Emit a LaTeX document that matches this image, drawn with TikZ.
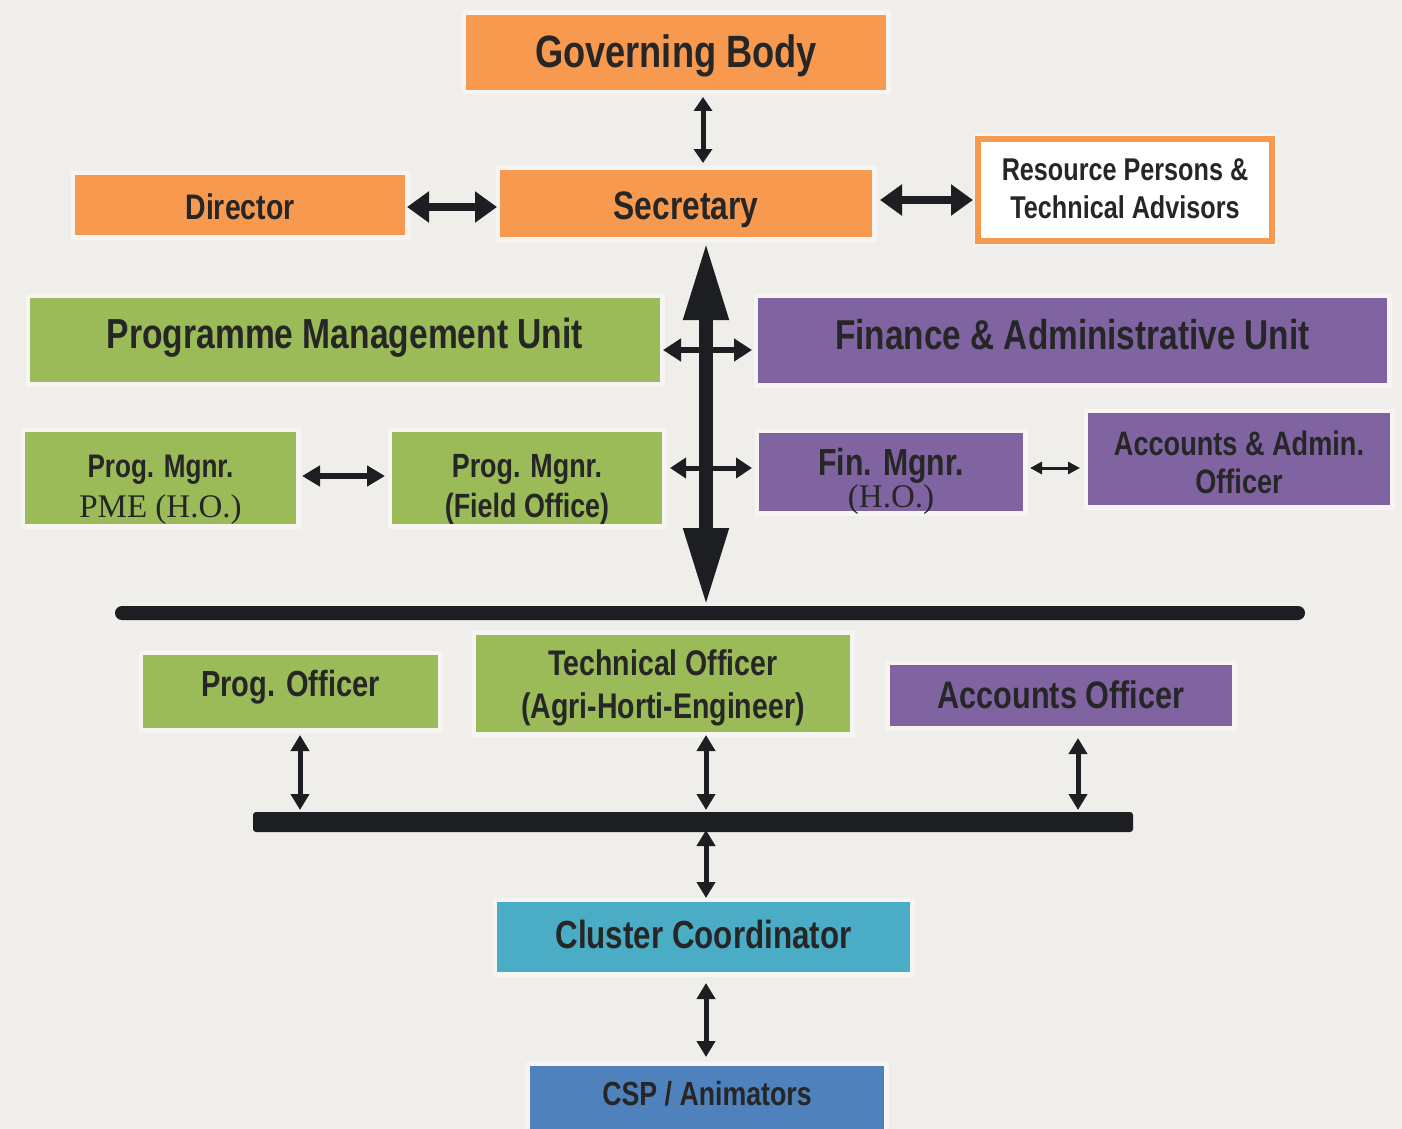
\documentclass[tikz,border=0pt]{standalone}
\usepackage{fontspec}
\setmainfont{Liberation Sans}
\newfontfamily\cond[FakeStretch=0.8]{Liberation Sans}
\newfontfamily\serifr{Liberation Serif}
\usetikzlibrary{arrows.meta,calc}
\definecolor{bg}{HTML}{F0EEEA}
\definecolor{orng}{HTML}{F79A50}
\definecolor{grn}{HTML}{9BBB59}
\definecolor{prp}{HTML}{8064A2}
\definecolor{cyn}{HTML}{4BACC6}
\definecolor{blu}{HTML}{4F81BD}
\definecolor{ink}{HTML}{262626}
\definecolor{arrc}{HTML}{1C1E22}
\newcommand{\setfs}[2]{\fontsize{#1}{#2}\selectfont}
\tikzset{
  box/.style={rectangle, inner sep=0pt, outer sep=0pt, anchor=north west, fill=#1, text=ink,
    align=center, font=\cond\bfseries,
    preaction={draw=white, line width=9pt, opacity=0.45}},
  down/.style={text height=#1, text depth=0pt},
  barbox/.style={rectangle, inner sep=0pt, outer sep=0pt, anchor=north west, fill=arrc},
  conn/.style n args={3}{draw=arrc, line width=#1,
    arrows={Triangle[width=#2,length=#3]-Triangle[width=#2,length=#3]}}
}
\begin{document}
\begin{tikzpicture}[x=1pt,y=-1pt]
\useasboundingbox (0,0) rectangle (1402,1129);
\fill[bg] (0,0) rectangle (1402,1129);

% top level
\node[box=orng, minimum width=420pt, minimum height=75pt, down=31pt, font=\cond\bfseries\setfs{45.3}{50}] (gb) at (466,15) {Governing Body};
\node[box=orng, minimum width=330pt, minimum height=60pt, down=29pt, font=\cond\bfseries\setfs{35.5}{40}] (dir) at (75,175) {Director};
\node[box=orng, minimum width=372pt, minimum height=67pt, down=32pt, font=\cond\bfseries\setfs{39.7}{44}] (sec) at (500,170) {Secretary};
\node[box=white, draw=orng, line width=6pt, minimum width=294pt, minimum height=102pt, down=56pt, font=\cond\bfseries\setfs{31.5}{38}] (res) at (978,139) {Resource Persons \&\\Technical Advisors};

% units
\node[box=grn, minimum width=630pt, minimum height=84pt, down=17pt, font=\cond\bfseries\setfs{42}{46}] (pmu) at (30,298) {Programme Management Unit};
\node[box=prp, minimum width=629pt, minimum height=85pt, down=17pt, font=\cond\bfseries\setfs{41.7}{46}] (fau) at (758,298) {Finance \& Administrative Unit};

\node[box=grn, minimum width=271pt, minimum height=92pt, down=78pt, font=\cond\bfseries\setfs{32.6}{40}] (pme) at (25,432) {Prog. Mgnr.\\{\serifr\mdseries\setfs{33}{40}PME (H.O.)}};
\node[box=grn, minimum width=270pt, minimum height=92pt, down=78pt, font=\cond\bfseries\setfs{33.6}{40}] (pmf) at (392,432) {Prog. Mgnr.\\(Field Office)};
\node[box=prp, minimum width=264pt, minimum height=78pt, down=70pt, font=\cond\bfseries\setfs{37.7}{29}] (fin) at (759,433) {Fin. Mgnr.\\{\serifr\mdseries\setfs{33}{29}(H.O.)}};
\node[box=prp, minimum width=302pt, minimum height=92pt, down=68pt, font=\cond\bfseries\setfs{33.9}{38}] (aao) at (1088,413) {Accounts \& Admin.\\Officer};

% bars
\node[barbox, minimum width=1190pt, minimum height=14pt, rounded corners=7pt] (bar1) at (115,606) {};
\node[barbox, minimum width=880pt, minimum height=20pt, rounded corners=3pt] (bar2) at (253,812) {};

% officers
\node[box=grn, minimum width=295pt, minimum height=73pt, down=10pt, font=\cond\bfseries\setfs{36.3}{40}] (po) at (143,655) {Prog. Officer};
\node[box=grn, minimum width=374pt, minimum height=97pt, down=69pt, font=\cond\bfseries\setfs{35.6}{43}] (to) at (476,635) {Technical Officer\\(Agri-Horti-Engineer)};
\node[box=prp, minimum width=342pt, minimum height=61pt, down=25pt, font=\cond\bfseries\setfs{38.3}{42}] (ao) at (890,665) {Accounts Officer};

\node[box=cyn, minimum width=413pt, minimum height=70pt, down=22pt, font=\cond\bfseries\setfs{39.2}{44}] (cc) at (497,902) {Cluster Coordinator};
\node[box=blu, minimum width=354pt, minimum height=63pt, down=15pt, font=\cond\bfseries\setfs{33.4}{38}] (csp) at (530,1066) {CSP / Animators};

% connector positions
\coordinate (xa) at (703,0);
\coordinate (xb) at (706,0);
\coordinate (xp) at (300,0);
\coordinate (xo) at (1078,0);
\coordinate (ya) at (0,207);
\coordinate (yb) at (0,200);
\coordinate (yc) at (0,350);
\coordinate (yd) at (0,468);
\coordinate (ye) at (0,476);

% connectors
\draw[conn={5pt}{18pt}{14pt}, shorten <=7pt, shorten >=7pt] (gb.south -| xa) -- (sec.north -| xa);
\draw[conn={8pt}{30pt}{22pt}, shorten <=2pt, shorten >=3pt] (dir.east |- ya) -- (sec.west |- ya);
\draw[conn={8pt}{30pt}{22pt}, shorten <=8pt, shorten >=5pt] (sec.east |- yb) -- (res.west |- yb);

\draw[conn={6pt}{22pt}{18pt}, shorten <=3pt, shorten >=6pt] (pmu.east |- yc) -- (fau.west |- yc);
\draw[conn={5pt}{20pt}{16pt}, shorten <=8pt, shorten >=7pt] (pmf.east |- yd) -- (fin.west |- yd);
\draw[conn={14pt}{42pt}{78pt}, shorten <=5pt] (sec.south -| xb) -- (bar1.north -| xb);

\draw[conn={6pt}{20pt}{18pt}, shorten <=6pt, shorten >=7pt] (pme.east |- ye) -- (pmf.west |- ye);
\draw[conn={3pt}{12pt}{12pt}, shorten <=7pt, shorten >=8pt] (fin.east |- yd) -- (aao.west |- yd);

\draw[conn={5pt}{18pt}{16pt}, shorten <=7pt, shorten >=2pt] (po.south -| xp) -- (bar2.north -| xp);
\draw[conn={5pt}{18pt}{16pt}, shorten <=3pt, shorten >=2pt] (to.south -| xb) -- (bar2.north -| xb);
\draw[conn={5pt}{18pt}{16pt}, shorten <=12pt, shorten >=2pt] (ao.south -| xo) -- (bar2.north -| xo);
\draw[conn={5pt}{18pt}{16pt}, shorten <=-2pt, shorten >=4pt] (bar2.south -| xb) -- (cc.north -| xb);
\draw[conn={5pt}{18pt}{16pt}, shorten <=11pt, shorten >=9pt] (cc.south -| xb) -- (csp.north -| xb);
\end{tikzpicture}
\end{document}
